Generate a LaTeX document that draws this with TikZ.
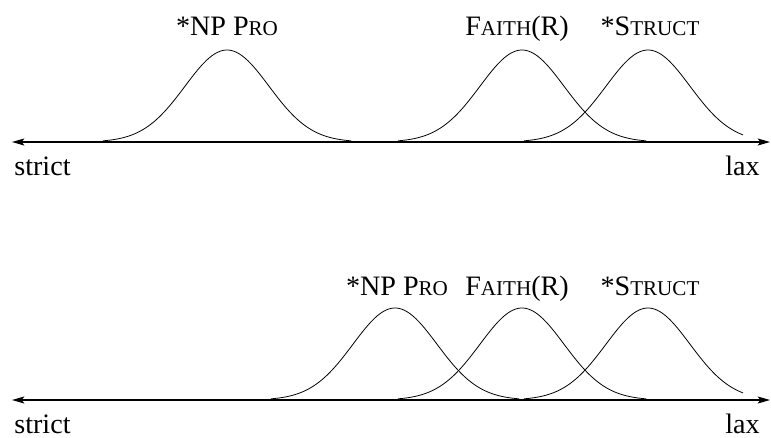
\documentclass[tikz,border=0pt]{standalone}
\usepackage{fontspec}
\setmainfont{Liberation Serif}
\usetikzlibrary{arrows.meta}
\newcommand\fsc[1]{{\fontsize{12}{14}\selectfont #1}}

\begin{document}
\begin{tikzpicture}[
      x=0.02cm, y=-0.02cm,
      font=\fontsize{16}{19}\selectfont,
      axis/.style={{Stealth[length=7pt,width=4pt,inset=1.5pt]}-{Stealth[length=7pt,width=4pt,inset=1.5pt]}, line width=0.8pt},
      bell/.style={line width=0.45pt},
      clbl/.style={anchor=base},
      endlbl/.style={inner xsep=0pt}
    ]
    \useasboundingbox (0,0) rectangle (771,437);
    % ------------- Panel 1 -------------
    \begin{scope}
      \coordinate (ax1l) at (12,142);
      \coordinate (ax1r) at (770,142);
      \draw[axis] (ax1l) -- (ax1r);
      \foreach \mu/\hi in {227/124, 522/124, 648/95}
        \draw[bell] plot[domain=-124:\hi, samples=90, smooth]
          ({\mu+\x},{142-92*exp(-0.5*(\x/42)^2)});
      \node[clbl] (np1) at (227,35) {*NP P\fsc{RO}};
      \node[clbl] (fa1) at (517,35) {F\fsc{AITH}(R)};
      \node[clbl] (st1) at (650,35) {*S\fsc{TRUCT}};
      \node[endlbl, anchor=base west] (st1l) at (14,175) {strict};
      \node[endlbl, anchor=base east] (lx1) at (760,175) {lax};
    \end{scope}
    % ------------- Panel 2 -------------
    \begin{scope}[shift={(0,258)}]
      \coordinate (ax2l) at (12,142);
      \coordinate (ax2r) at (770,142);
      \draw[axis] (ax2l) -- (ax2r);
      \foreach \mu/\hi in {395/124, 522/124, 648/95}
        \draw[bell] plot[domain=-124:\hi, samples=90, smooth]
          ({\mu+\x},{142-92*exp(-0.5*(\x/42)^2)});
      \node[clbl] (np2) at (397,37) {*NP P\fsc{RO}};
      \node[clbl] (fa2) at (517,37) {F\fsc{AITH}(R)};
      \node[clbl] (st2) at (650,37) {*S\fsc{TRUCT}};
      \node[endlbl, anchor=base west] (st2l) at (14,175) {strict};
      \node[endlbl, anchor=base east] (lx2) at (760,175) {lax};
    \end{scope}
  \end{tikzpicture}
\end{document}
